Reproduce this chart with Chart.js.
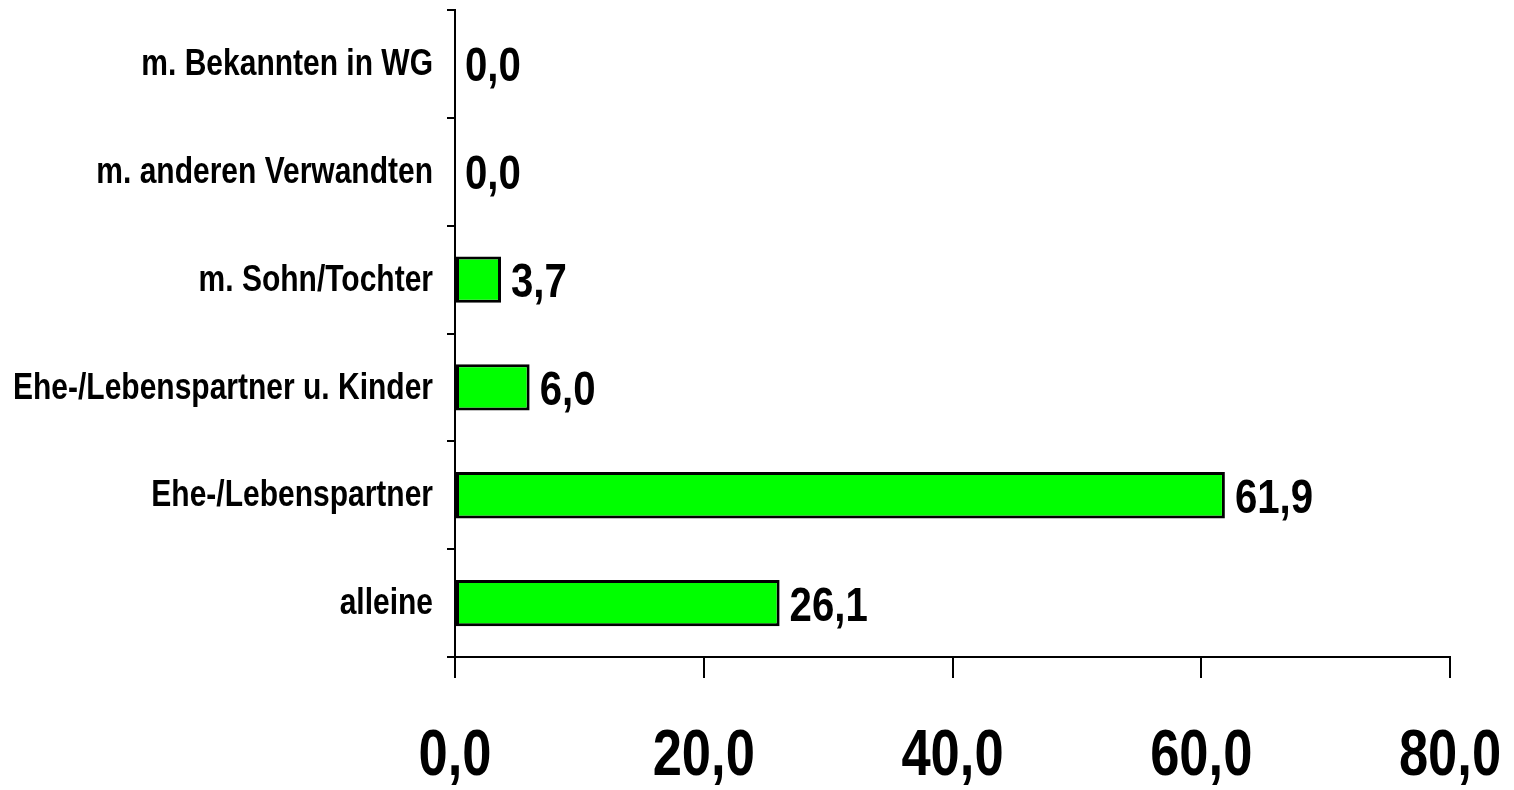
<!DOCTYPE html>
<html>
<head>
<meta charset="utf-8">
<script src="https://cdn.jsdelivr.net/npm/chart.js@4/dist/chart.umd.min.js"></script>
<style>
  html, body { margin: 0; padding: 0; background: #fff; }
</style>
</head>
<body>
<canvas id="wohnChart" width="1514" height="790"></canvas>
<script>
var Labels = ['m. Bekannten in WG', 'm. anderen Verwandten', 'm. Sohn/Tochter',
              'Ehe-/Lebenspartner u. Kinder', 'Ehe-/Lebenspartner', 'alleine'];
var Values = [0.0, 0.0, 3.7, 6.0, 61.9, 26.1];
var xTicks = [0, 20, 40, 60, 80];

// no narrow face installed, so Liberation Sans is squeezed horizontally
var FONT = "'Liberation Sans', Arial, sans-serif";
var NARROW = 0.82;

function fmt(v) {
    return v.toFixed(1).replace('.', ',');
}

function narrowText(ctx, text, x, y, size, align) {
    ctx.save();
    ctx.font = 'bold ' + size + 'px ' + FONT;
    ctx.fillStyle = '#000';
    ctx.textAlign = align;
    ctx.textBaseline = 'middle';
    ctx.translate(x, y);
    ctx.scale(NARROW, 1);
    ctx.fillText(text, 0, 0);
    ctx.restore();
}

// axis labels + value labels, positioned from the chart's own scales
var textLayer = {
    id: 'textLayer',
    afterDraw: function (chart) {
        var ctx = chart.ctx;
        var xs = chart.scales.x, ys = chart.scales.y;
        Labels.forEach(function (lab, i) {
            narrowText(ctx, lab, ys.right - 22, ys.getPixelForTick(i) + 1, 36.6, 'right');
        });
        xTicks.forEach(function (v) {
            narrowText(ctx, fmt(v), xs.getPixelForValue(v), xs.top + 100, 64, 'center');
        });
        chart.getDatasetMeta(0).data.forEach(function (bar, i) {
            narrowText(ctx, fmt(Values[i]), bar.x + 10, bar.y + 4, 49, 'left');
        });
    }
};

var ctx = document.getElementById('wohnChart');
var myChart = new Chart(ctx, {
    type: 'bar',
    data: {
        labels: Labels,
        datasets: [{
            data: Values,
            backgroundColor: '#00FF00',
            borderColor: '#000',
            borderWidth: 3,
            borderSkipped: false,
            barPercentage: 0.43,
            categoryPercentage: 1
        }]
    },
    options: {
        indexAxis: 'y',
        responsive: false,
        animation: false,
        layout: { padding: { top: 10, right: 64, left: 0, bottom: 0 } },
        plugins: {
            legend: { display: false },
            tooltip: { enabled: false }
        },
        scales: {
            x: {
                min: 0,
                max: 80,
                afterBuildTicks: function (s) {
                    s.ticks = xTicks.map(function (v) { return { value: v }; });
                },
                afterFit: function (s) { s.height = 133; },
                grid: { drawOnChartArea: false, tickLength: 21, color: '#000', lineWidth: 2 },
                border: { color: '#000', width: 2 },
                ticks: { display: false }
            },
            y: {
                afterFit: function (s) { s.width = 455; },
                grid: { drawOnChartArea: false, offset: true, tickLength: 8, color: '#000', lineWidth: 2 },
                border: { color: '#000', width: 2 },
                ticks: { display: false }
            }
        }
    },
    plugins: [textLayer]
});
</script>
</body>
</html>
